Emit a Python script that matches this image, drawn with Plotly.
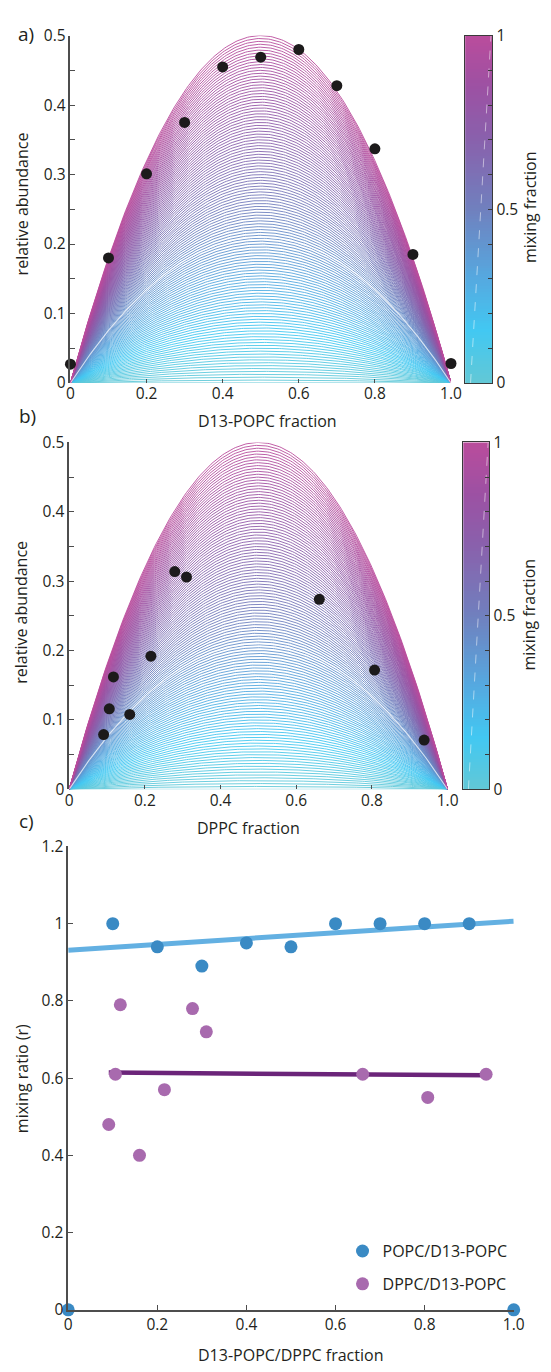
import numpy as np
import plotly.graph_objects as go
from plotly.colors import sample_colorscale

W, H = 551, 1372
FONT = "Open Sans"
INK = "#231f20"
AXIS = "#4d4d4d"

# ---- measured data -------------------------------------------------------
# POPC / D13-POPC series
popc_x = [0.0, 0.1, 0.2, 0.3, 0.4, 0.5, 0.6, 0.7, 0.8, 0.9, 1.0]
popc_abundance = [0.027, 0.180, 0.301, 0.375, 0.455, 0.469, 0.480, 0.428, 0.337, 0.185, 0.028]
popc_ratio = [0.0, 1.00, 0.94, 0.89, 0.95, 0.94, 1.00, 1.00, 1.00, 1.00, 0.0]

# DPPC / D13-POPC series
dppc_x = [0.091, 0.106, 0.117, 0.160, 0.216, 0.279, 0.310, 0.661, 0.807, 0.938]
dppc_abundance = [0.079, 0.116, 0.162, 0.108, 0.192, 0.314, 0.306, 0.274, 0.172, 0.071]
dppc_ratio = [0.48, 0.61, 0.79, 0.40, 0.57, 0.78, 0.72, 0.61, 0.55, 0.61]

# model family: abundance = 2 r x (1 - x) for mixing fraction r
mixing_levels = np.linspace(0.0, 1.0, 121)
highlight_level = 0.42
frac_grid = np.linspace(0.0, 1.0, 201)

mixing_colorscale = [
    [0.00, "#62c8d6"],
    [0.15, "#42c8f2"],
    [0.30, "#55a9e0"],
    [0.50, "#7080be"],
    [0.70, "#8961ac"],
    [0.85, "#9c51a3"],
    [1.00, "#ba4c9c"],
]

abund_ticks = [0, 0.1, 0.2, 0.3, 0.4, 0.5]
abund_ticktext = ["0", "0.1", "0.2", "0.3", "0.4", "0.5"]
frac_ticks = [0, 0.2, 0.4, 0.6, 0.8, 1.0]
frac_ticktext = ["0", "0.2", "0.4", "0.6", "0.8", "1.0"]
ratio_ticks = [0, 0.2, 0.4, 0.6, 0.8, 1.0, 1.2]
ratio_ticktext = ["0", "0.2", "0.4", "0.6", "0.8", "1", "1.2"]
cbar_ticks = [round(v, 1) for v in np.linspace(0, 1, 11)]
cbar_ticktext = ["0", "", "", "", "", "0.5", "", "", "", "", "1"]


def px_x(p):
    return p / W


def px_y(p):
    return 1 - p / H


def model(r, x):
    return 2.0 * r * x * (1.0 - x)


fig = go.Figure()

# ---- panels a) and b): family of curves + measurements ---------------------
panels = [
    dict(xa="x", ya="y", px_x=popc_x, px_y=popc_abundance),
    dict(xa="x2", ya="y2", px_x=dppc_x, px_y=dppc_abundance),
]
level_colors = sample_colorscale(mixing_colorscale, list(mixing_levels))
for p in panels:
    for r, col in zip(mixing_levels, level_colors):
        fig.add_trace(go.Scatter(
            x=frac_grid, y=model(r, frac_grid), mode="lines",
            line=dict(color=col, width=0.9), hoverinfo="skip",
            showlegend=False, xaxis=p["xa"], yaxis=p["ya"],
        ))
    fig.add_trace(go.Scatter(
        x=frac_grid, y=model(highlight_level, frac_grid), mode="lines",
        line=dict(color="rgba(255,255,255,0.72)", width=1.1), hoverinfo="skip",
        showlegend=False, xaxis=p["xa"], yaxis=p["ya"],
    ))
    fig.add_trace(go.Scatter(
        x=p["px_x"], y=p["px_y"], mode="markers",
        marker=dict(color="#1c1a1b", size=11), cliponaxis=False,
        showlegend=False, xaxis=p["xa"], yaxis=p["ya"],
    ))

# ---- colour bars drawn as heatmaps ----------------------------------------
for xa, ya in (("x4", "y4"), ("x5", "y5")):
    fig.add_trace(go.Heatmap(
        z=[[v] for v in mixing_levels], x=[0], y=list(mixing_levels),
        colorscale=mixing_colorscale, zmin=0, zmax=1, showscale=False,
        hoverinfo="skip", xaxis=xa, yaxis=ya,
    ))
    fig.add_trace(go.Scatter(
        x=[-0.3, 0.45], y=[0.0, 1.0], mode="lines",
        line=dict(color="rgba(255,255,255,0.5)", width=1, dash="dash"),
        hoverinfo="skip", showlegend=False, xaxis=xa, yaxis=ya,
    ))

# ---- panel c): mixing ratio with linear fits ------------------------------
popc_inner = [(x, r) for x, r in zip(popc_x, popc_ratio) if 0 < x < 1]
bx = np.array([v[0] for v in popc_inner])
by = np.array([v[1] for v in popc_inner])
b_slope, b_int = np.polyfit(bx, by, 1)
fit_x_b = np.array([0.0, 1.0])

dx = np.array(dppc_x)
dy = np.array(dppc_ratio)
d_slope, d_int = np.polyfit(dx, dy, 1)
fit_x_d = np.array([dx.min(), dx.max()])

fig.add_trace(go.Scatter(
    x=fit_x_b, y=b_int + b_slope * fit_x_b, mode="lines",
    line=dict(color="#63b0e2", width=5), showlegend=False,
    hoverinfo="skip", xaxis="x3", yaxis="y3",
))
fig.add_trace(go.Scatter(
    x=fit_x_d, y=d_int + d_slope * fit_x_d, mode="lines",
    line=dict(color="#6b2479", width=4.5), showlegend=False,
    hoverinfo="skip", xaxis="x3", yaxis="y3",
))
fig.add_trace(go.Scatter(
    x=popc_x, y=popc_ratio, mode="markers", name="POPC/D13-POPC",
    marker=dict(color="#3a8ac4", size=13), cliponaxis=False,
    legendgroup="a", xaxis="x3", yaxis="y3",
))
fig.add_trace(go.Scatter(
    x=dppc_x, y=dppc_ratio, mode="markers", name="DPPC/D13-POPC",
    marker=dict(color="#a86aae", size=13), cliponaxis=False,
    legendgroup="b", xaxis="x3", yaxis="y3",
))

# ---- axes ----------------------------------------------------------------
tickfont = dict(family=FONT, size=15.5, color=INK)


def frac_axis(left, right, anchor):
    return dict(
        domain=[px_x(left), px_x(right)], anchor=anchor, range=[0, 1],
        showline=False, showgrid=False, zeroline=False,
        ticks="inside", ticklen=4, tickwidth=1, tickcolor=AXIS,
        tickvals=frac_ticks, ticktext=frac_ticktext, tickfont=tickfont,
    )


def abund_axis(top, bottom, anchor):
    return dict(
        domain=[px_y(bottom), px_y(top)], anchor=anchor, range=[0, 0.5],
        showline=True, linecolor=AXIS, linewidth=1.5,
        showgrid=False, zeroline=False,
        ticks="inside", ticklen=5, tickwidth=1, tickcolor=AXIS,
        tickvals=abund_ticks, ticktext=abund_ticktext, tickfont=tickfont,
        minor=dict(tickvals=[0.05, 0.15, 0.25, 0.35, 0.45], ticks="inside",
                   ticklen=5, tickcolor=AXIS, tickwidth=1),
    )


def cbar_axes(left, right, top, bottom, anchor_x, anchor_y):
    xa = dict(domain=[px_x(left), px_x(right)], anchor=anchor_y, range=[-0.5, 0.5],
              showline=True, mirror=True, linecolor="#3a3a3a", linewidth=1,
              showticklabels=False, ticks="", showgrid=False, zeroline=False)
    ya = dict(domain=[px_y(bottom), px_y(top)], anchor=anchor_x, range=[0, 1],
              side="right", showline=True, mirror=True, linecolor="#3a3a3a",
              linewidth=1, ticks="inside", ticklen=4, tickcolor="#3a3a3a",
              tickvals=cbar_ticks, ticktext=cbar_ticktext, tickfont=tickfont,
              showgrid=False, zeroline=False)
    return xa, ya


cb1x, cb1y = cbar_axes(474, 502, 24, 377, "x4", "y4")
cb2x, cb2y = cbar_axes(472, 499, 437.5, 790, "x5", "y5")

fig.update_layout(
    width=W, height=H,
    margin=dict(l=0, r=0, t=0, b=0),
    paper_bgcolor="white", plot_bgcolor="rgba(0,0,0,0)",
    font=dict(family=FONT, size=15, color=INK),
    xaxis=frac_axis(68.3, 459.5, "y"),
    yaxis=abund_axis(24, 377, "x"),
    xaxis2=frac_axis(67, 456, "y2"),
    yaxis2=abund_axis(437.5, 790, "x2"),
    xaxis3=dict(
        domain=[px_x(66), px_x(524)], anchor="y3", range=[0, 1],
        showline=True, linecolor=AXIS, linewidth=1.5, showgrid=False,
        zeroline=False, ticks="inside", ticklen=5, tickcolor=AXIS,
        tickvals=frac_ticks, ticktext=frac_ticktext, tickfont=tickfont,
    ),
    yaxis3=dict(
        domain=[px_y(1319), px_y(848)], anchor="x3", range=[0, 1.2],
        showline=True, linecolor=AXIS, linewidth=1.5, showgrid=False,
        zeroline=False, ticks="inside", ticklen=5, tickcolor=AXIS,
        tickvals=ratio_ticks, ticktext=ratio_ticktext, tickfont=tickfont,
    ),
    xaxis4=cb1x, yaxis4=cb1y,
    xaxis5=cb2x, yaxis5=cb2y,
    legend=dict(
        x=px_x(348), y=px_y(1242), xanchor="left", yanchor="top",
        bgcolor="rgba(0,0,0,0)", borderwidth=0,
        font=dict(family=FONT, size=16, color=INK),
        tracegroupgap=9, itemsizing="trace",
    ),
)

# ---- text labels ---------------------------------------------------------
labels = [
    dict(text="a)", x=23, y=22, size=19),
    dict(text="b)", x=24, y=411, size=19),
    dict(text="c)", x=23, y=822, size=19),
    dict(text="relative abundance", x=18, y=195, angle=-90),
    dict(text="relative abundance", x=18, y=610, angle=-90),
    dict(text="mixing ratio (r)", x=18, y=1084, angle=-90),
    dict(text="mixing fraction", x=541, y=198, angle=-90),
    dict(text="mixing fraction", x=540, y=612, angle=-90),
    dict(text="D13-POPC fraction", x=271, y=416),
    dict(text="DPPC fraction", x=251, y=829),
    dict(text="D13-POPC/DPPC fraction", x=295, y=1365),
]
for lb in labels:
    fig.add_annotation(
        text=lb["text"], x=px_x(lb["x"]), y=px_y(lb["y"]),
        xref="paper", yref="paper", xanchor="center", yanchor="middle",
        showarrow=False, textangle=lb.get("angle", 0),
        font=dict(family=FONT, size=lb.get("size", 16), color=INK),
    )

fig.write_html("out.html")
